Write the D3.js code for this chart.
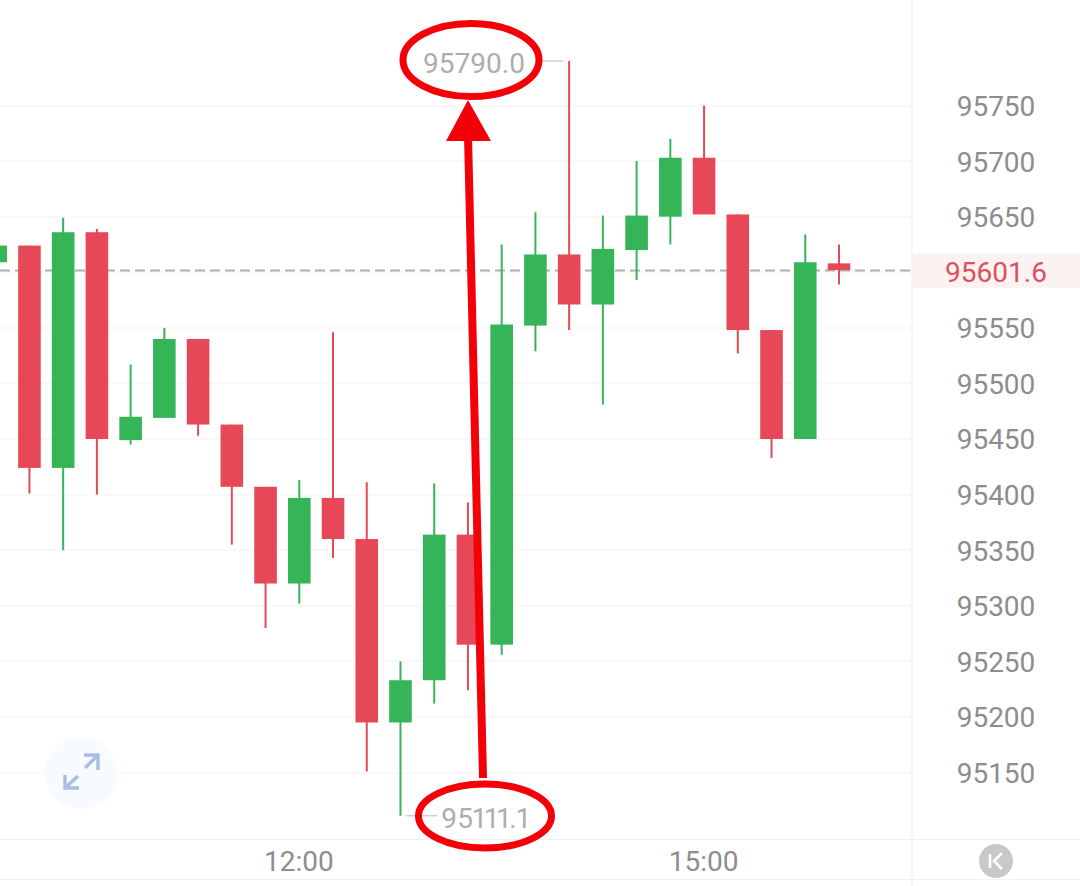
<!DOCTYPE html>
<html>
<head>
<meta charset="utf-8">
<script src="https://cdn.jsdelivr.net/npm/d3@7/dist/d3.min.js"></script>
<style>
html,body{margin:0;padding:0;background:#fff;overflow:hidden}
svg{display:block}
text{font-family:Roboto,sans-serif}
</style>
</head>
<body>
<svg id="c" width="1080" height="886"></svg>
<script>
const times = ["09:45","10:00","10:15","10:30","10:45","11:00","11:15","11:30","11:45","12:00","12:15","12:30","12:45","13:00","13:15","13:30","13:45","14:00","14:15","14:30","14:45","15:00","15:15","15:30","15:45","16:00"];
const opens  = [95609,95624,95424,95636,95449,95469,95540,95463,95407,95320,95397,95360,95195,95233,95364,95265,95552,95616,95571,95620,95650,95703,95652,95548,95450,95608];
const closes = [95624,95424,95636,95450,95470,95540,95463,95407,95320,95397,95360,95195,95233,95364,95265,95553,95616,95571,95621,95651,95703,95652,95548,95450,95609,95602];
const highs  = [95624,95624,95649,95639,95517,95550,95540,95463,95407,95413,95546,95411,95250,95410,95393,95625,95654,95790,95651,95700,95720,95750,95652,95548,95634,95625];
const lows   = [95609,95401,95350,95400,95445,95469,95453,95355,95280,95302,95343,95151,95111,95212,95224,95256,95529,95548,95481,95593,95625,95652,95527,95433,95450,95589];
const yTicks = [95150,95200,95250,95300,95350,95400,95450,95500,95550,95600,95650,95700,95750];
const yLabels = yTicks.filter(v => v !== 95600);
const xTicks = ["12:00","15:00"];
const lastPrice = 95601.6;
const maxLabel = "95790.0", minLabel = "95111.1";

const svg = d3.select("#c");
const y = d3.scaleLinear().domain([95150,95750]).range([772.5,105.5]);
const x = d3.scalePoint().domain(times).range([-4.3,839]);
const rows = times.map((t,i)=>({t,o:opens[i],c:closes[i],h:highs[i],l:lows[i]}));
const RED="#e64857", GREEN="#36b558";
const FS = 28;

// grid
svg.append("g").selectAll("line").data(yTicks).join("line")
  .attr("x1",0).attr("x2",912).attr("y1",d=>Math.round(y(d))).attr("y2",d=>Math.round(y(d)))
  .attr("stroke","#f3f3f3").attr("stroke-width",1);
const frame = svg.append("g").attr("stroke","#f0f0f0").attr("stroke-width",1.2);
frame.append("line").attr("x1",912).attr("x2",912).attr("y1",0).attr("y2",886);
frame.append("line").attr("x1",0).attr("x2",1080).attr("y1",839.5).attr("y2",839.5);
frame.append("line").attr("x1",0).attr("x2",1080).attr("y1",879.5).attr("y2",879.5);

// last price band
svg.append("rect").attr("x",912.5).attr("width",168).attr("y",y(lastPrice)-17.5).attr("height",35).attr("fill","#fdf2f2");

// dashed last-price line
svg.append("line").attr("x1",0).attr("x2",910).attr("y1",y(lastPrice)).attr("y2",y(lastPrice))
  .attr("stroke","#b0b0b0").attr("stroke-width",2).attr("stroke-dasharray","10 5");

// expand button
const ex = svg.append("g").attr("transform","translate(81,773)");
ex.append("circle").attr("r",36).attr("fill","#f7fbff");
ex.append("path").attr("d","M3,-18H17V-3M17,-18L4,-5")
  .attr("fill","none").attr("stroke","#a9bde2").attr("stroke-width",3.4);
ex.append("path").attr("d","M-16,2V15H-2M-16,15L-3,3")
  .attr("fill","none").attr("stroke","#a9bde2").attr("stroke-width",3.4);

// candles
const cg = svg.append("g");
cg.selectAll("line.w").data(rows).join("line").attr("class","w")
  .attr("x1",d=>x(d.t)).attr("x2",d=>x(d.t)).attr("y1",d=>y(d.h)).attr("y2",d=>y(d.l))
  .attr("stroke",d=>d.c>=d.o?GREEN:RED).attr("stroke-width",2);
cg.selectAll("rect.b").data(rows).join("rect").attr("class","b")
  .attr("x",d=>x(d.t)-11.3).attr("width",22.6)
  .attr("y",d=>y(Math.max(d.o,d.c))).attr("height",d=>Math.abs(y(d.o)-y(d.c)))
  .attr("fill",d=>d.c>=d.o?GREEN:RED);

// y axis
const ya = svg.append("g").attr("transform","translate(996,1)")
  .call(d3.axisRight(y).tickValues(yLabels).tickFormat(d3.format("d")).tickSize(0).tickPadding(0));
ya.select(".domain").remove();
ya.selectAll("text").attr("text-anchor","middle").attr("x",0)
  .style("font-family","Roboto,sans-serif").style("font-size",FS+"px").attr("fill","#8d8d8d");
svg.append("text").attr("x",996).attr("y",y(lastPrice)+1).attr("dy",".36em").attr("text-anchor","middle")
  .attr("font-size",FS).attr("fill","#df4f5f").text(lastPrice.toFixed(1));

// x axis
const xa = svg.append("g").attr("transform","translate(0,851)")
  .call(d3.axisBottom(x).tickValues(xTicks).tickSize(0).tickPadding(0));
xa.select(".domain").remove();
xa.selectAll("text").attr("dy",".72em").attr("dx",-1)
  .style("font-family","Roboto,sans-serif").style("font-size",FS+"px").attr("fill","#8d8d8d");

// K button
const k = svg.append("g").attr("transform","translate(996,861)");
k.append("circle").attr("r",17).attr("fill","#c8c8c8");
k.append("path").attr("d","M-6,-7V7M6,-8L-2,0L6,8").attr("fill","none").attr("stroke","#fff").attr("stroke-width",2.6);

// high/low leaders & labels
svg.append("line").attr("x1",540).attr("x2",563).attr("y1",y(95790)).attr("y2",y(95790)).attr("stroke","#cccccc").attr("stroke-width",1.4);
svg.append("line").attr("x1",406).attr("x2",437).attr("y1",y(95111.1)).attr("y2",y(95111.1)).attr("stroke","#cccccc").attr("stroke-width",1.4);
svg.append("text").attr("x",474).attr("y",63).attr("dy",".36em").attr("text-anchor","middle").attr("font-size",FS).attr("fill","#adadad").text(maxLabel);
svg.append("text").attr("x",485).attr("y",818).attr("dy",".36em").attr("text-anchor","middle").attr("font-size",FS).attr("fill","#adadad").style("font-feature-settings","'pnum'").text(minLabel);

// red annotation
const note = svg.append("g");
note.append("ellipse").attr("cx",471).attr("cy",60).attr("rx",68).attr("ry",36.5).attr("fill","none").attr("stroke","#f40009").attr("stroke-width",7);
note.append("ellipse").attr("cx",485).attr("cy",816).attr("rx",66.5).attr("ry",32).attr("fill","none").attr("stroke","#f40009").attr("stroke-width",7);
note.append("line").attr("x1",483).attr("y1",778).attr("x2",468).attr("y2",135).attr("stroke","#f40009").attr("stroke-width",8);
note.append("path").attr("d","M468,100L491,141H446Z").attr("fill","#f40009");
</script>
</body>
</html>
